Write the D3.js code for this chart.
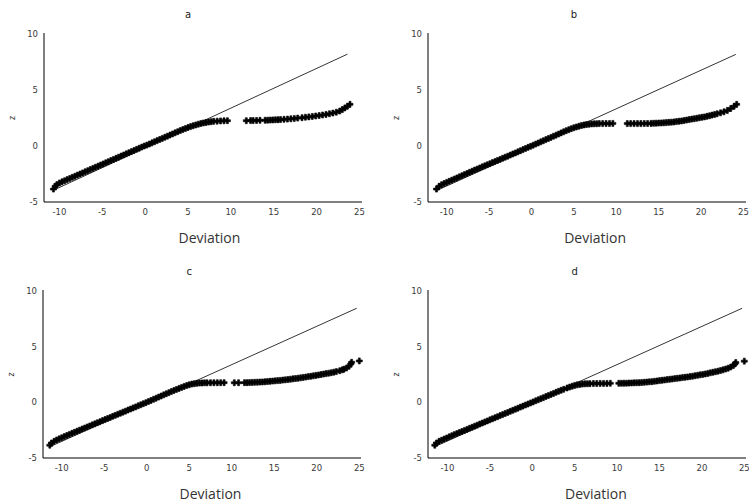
<!DOCTYPE html>
<html>
<head>
<meta charset="utf-8">
<script src="https://cdn.jsdelivr.net/npm/d3@7"></script>
<style>
  body { margin: 0; background: #fff; }
  .tick-label { font-family: "DejaVu Sans", sans-serif; font-size: 8.5px; fill: #3a3a3a; }
  .title { font-family: "DejaVu Sans", sans-serif; font-size: 10px; fill: #222; }
  .x-label { font-family: "Open Sans", sans-serif; font-size: 14px; fill: #333; }
  .y-label { font-family: "DejaVu Sans", sans-serif; font-size: 8px; fill: #333; }
</style>
</head>
<body>
<div id="chart"></div>
<script>
/* Four Q-Q style panels: z against Deviation, with the reference line. */

const titles = ["a", "b", "c", "d"];
const xTicks = [-10, -5, 0, 5, 10, 15, 20, 25];
const yTicks = [-5, 0, 5, 10];

// reference lines [deviation, z]
const lineA = [[-10.7, -3.95], [23.6, 8.2]];
const lineB = [[-11.1, -3.95], [24.1, 8.18]];
const lineC = [[-11.4, -3.99], [24.7, 8.45]];
const lineD = [[-11.5, -3.98], [24.75, 8.45]];

// points [deviation, z]
const pointsA = [
  [-10.7, -3.85], [-10.5, -3.6], [-10.3, -3.45], [-10.0, -3.3], [-9.7, -3.2], [-9.4, -3.1], [-9.1, -3.0],
  [-8.8, -2.9], [-8.5, -2.8], [-8.2, -2.7], [-7.9, -2.6], [-7.6, -2.5], [-7.3, -2.4], [-7.0, -2.3],
  [-6.7, -2.2], [-6.4, -2.1], [-6.1, -2.0], [-5.8, -1.9], [-5.5, -1.8], [-5.2, -1.7], [-4.9, -1.6],
  [-4.6, -1.5], [-4.3, -1.4], [-4.0, -1.3], [-3.7, -1.2], [-3.4, -1.1], [-3.1, -1.0], [-2.8, -0.9],
  [-2.5, -0.8], [-2.2, -0.7], [-1.9, -0.6], [-1.6, -0.5], [-1.3, -0.4], [-1.0, -0.3], [-0.7, -0.2],
  [-0.4, -0.1], [-0.1, 0.0], [0.2, 0.08], [0.5, 0.18], [0.8, 0.28], [1.1, 0.38], [1.4, 0.48],
  [1.7, 0.58], [2.0, 0.68], [2.3, 0.78], [2.6, 0.88], [2.9, 0.98], [3.2, 1.08], [3.5, 1.18],
  [3.8, 1.28], [4.1, 1.38], [4.4, 1.47], [4.7, 1.56], [5.0, 1.65], [5.3, 1.73], [5.6, 1.81],
  [5.9, 1.88], [6.2, 1.95], [6.5, 2.01], [6.8, 2.06], [7.1, 2.1], [7.4, 2.14], [7.7, 2.17],
  [8.0, 2.2], [8.4, 2.22], [8.8, 2.24], [9.2, 2.25], [9.6, 2.26],
  [11.8, 2.26], [12.3, 2.27], [12.6, 2.27], [13.0, 2.28], [13.4, 2.29], [14.0, 2.3], [14.3, 2.31],
  [14.6, 2.32], [14.9, 2.33], [15.2, 2.34], [15.5, 2.35], [15.8, 2.36], [16.2, 2.38], [16.6, 2.4],
  [17.0, 2.43], [17.4, 2.46], [17.8, 2.49], [18.3, 2.53], [18.7, 2.57], [19.1, 2.6], [19.5, 2.64],
  [19.9, 2.68], [20.3, 2.72], [20.7, 2.77], [21.1, 2.82], [21.5, 2.88], [21.9, 2.94], [22.3, 3.02],
  [22.7, 3.12], [23.0, 3.25], [23.3, 3.4], [23.6, 3.55], [23.9, 3.72]
];

const pointsB = [
  [-11.2, -3.85], [-10.9, -3.6], [-10.6, -3.45], [-10.3, -3.35], [-10.0, -3.25], [-9.7, -3.15], [-9.4, -3.05],
  [-9.1, -2.95], [-8.8, -2.85], [-8.5, -2.75], [-8.2, -2.65], [-7.9, -2.55], [-7.6, -2.45], [-7.3, -2.35],
  [-7.0, -2.25], [-6.7, -2.15], [-6.4, -2.06], [-6.1, -1.96], [-5.8, -1.86], [-5.5, -1.77], [-5.2, -1.67],
  [-4.9, -1.58], [-4.6, -1.48], [-4.3, -1.39], [-4.0, -1.29], [-3.7, -1.2], [-3.4, -1.1], [-3.1, -1.0],
  [-2.8, -0.91], [-2.5, -0.81], [-2.2, -0.71], [-1.9, -0.62], [-1.6, -0.52], [-1.3, -0.42], [-1.0, -0.32],
  [-0.7, -0.22], [-0.4, -0.12], [-0.1, -0.03], [0.2, 0.07], [0.5, 0.17], [0.8, 0.27], [1.1, 0.37],
  [1.4, 0.47], [1.7, 0.57], [2.0, 0.67], [2.3, 0.77], [2.6, 0.87], [2.9, 0.97], [3.2, 1.07],
  [3.5, 1.17], [3.8, 1.27], [4.1, 1.37], [4.4, 1.46], [4.7, 1.55], [5.0, 1.63], [5.3, 1.7],
  [5.6, 1.77], [5.9, 1.83], [6.2, 1.88], [6.5, 1.92], [6.8, 1.95], [7.1, 1.97], [7.4, 1.98],
  [7.7, 1.99], [8.0, 2.0], [8.4, 2.0], [8.8, 2.01], [9.2, 2.01], [9.6, 2.02],
  [11.3, 2.0], [11.7, 2.0], [12.1, 2.0], [12.5, 2.0], [12.9, 2.0], [13.3, 2.01], [13.7, 2.01],
  [14.1, 2.02], [14.4, 2.03], [14.7, 2.04], [15.0, 2.05], [15.3, 2.06], [15.6, 2.07], [15.9, 2.09],
  [16.2, 2.11], [16.5, 2.13], [16.8, 2.15], [17.1, 2.18], [17.4, 2.21], [17.7, 2.24], [18.0, 2.28],
  [18.3, 2.32], [18.6, 2.36], [18.9, 2.4], [19.2, 2.44], [19.5, 2.48], [19.8, 2.52], [20.1, 2.56],
  [20.4, 2.6], [20.7, 2.65], [21.0, 2.7], [21.3, 2.76], [21.6, 2.82], [21.9, 2.88], [22.3, 2.96],
  [22.7, 3.05], [23.1, 3.18], [23.5, 3.35], [23.9, 3.55], [24.2, 3.72]
];

const pointsC = [
  [-11.4, -3.85], [-11.2, -3.65], [-10.9, -3.5], [-10.6, -3.38], [-10.3, -3.28], [-10.0, -3.18], [-9.7, -3.08],
  [-9.4, -2.98], [-9.1, -2.88], [-8.8, -2.78], [-8.5, -2.69], [-8.2, -2.59], [-7.9, -2.5], [-7.6, -2.4],
  [-7.3, -2.31], [-7.0, -2.21], [-6.7, -2.12], [-6.4, -2.02], [-6.1, -1.93], [-5.8, -1.83], [-5.5, -1.74],
  [-5.2, -1.64], [-4.9, -1.55], [-4.6, -1.45], [-4.3, -1.36], [-4.0, -1.26], [-3.7, -1.17], [-3.4, -1.07],
  [-3.1, -0.98], [-2.8, -0.88], [-2.5, -0.79], [-2.2, -0.69], [-1.9, -0.6], [-1.6, -0.5], [-1.3, -0.41],
  [-1.0, -0.31], [-0.7, -0.22], [-0.4, -0.12], [-0.1, -0.03], [0.2, 0.07], [0.5, 0.17], [0.8, 0.27],
  [1.1, 0.37], [1.4, 0.47], [1.7, 0.57], [2.0, 0.67], [2.3, 0.77], [2.6, 0.87], [2.9, 0.97],
  [3.2, 1.07], [3.5, 1.16], [3.8, 1.25], [4.1, 1.34], [4.4, 1.43], [4.7, 1.51], [5.0, 1.58],
  [5.3, 1.64], [5.6, 1.68], [5.9, 1.71], [6.2, 1.73], [6.5, 1.74], [6.8, 1.75], [7.1, 1.75],
  [7.5, 1.76], [7.9, 1.76], [8.3, 1.76], [8.7, 1.76], [9.1, 1.77],
  [10.3, 1.76], [10.8, 1.76], [11.5, 1.77], [11.8, 1.77], [12.1, 1.78], [12.4, 1.79], [12.7, 1.8],
  [13.0, 1.81], [13.3, 1.82], [13.6, 1.83], [13.9, 1.85], [14.2, 1.87], [14.5, 1.89], [14.8, 1.91],
  [15.1, 1.93], [15.4, 1.95], [15.7, 1.97], [16.0, 2.0], [16.3, 2.02], [16.6, 2.05], [16.9, 2.08],
  [17.2, 2.11], [17.5, 2.14], [17.8, 2.17], [18.1, 2.2], [18.4, 2.24], [18.7, 2.27], [19.0, 2.31],
  [19.3, 2.34], [19.6, 2.38], [19.9, 2.42], [20.2, 2.46], [20.5, 2.5], [20.8, 2.54], [21.1, 2.58],
  [21.4, 2.62], [21.7, 2.66], [22.0, 2.71], [22.3, 2.76], [22.7, 2.84], [23.0, 2.92], [23.2, 2.98],
  [23.5, 3.08], [23.8, 3.25], [24.0, 3.45], [24.1, 3.6], [25.0, 3.72]
];

const pointsD = [
  [-11.5, -3.85], [-11.3, -3.65], [-11.0, -3.5], [-10.7, -3.4], [-10.4, -3.3], [-10.1, -3.2], [-9.8, -3.1],
  [-9.5, -3.0], [-9.2, -2.9], [-8.9, -2.81], [-8.6, -2.71], [-8.3, -2.62], [-8.0, -2.52], [-7.7, -2.43],
  [-7.4, -2.33], [-7.1, -2.24], [-6.8, -2.14], [-6.5, -2.05], [-6.2, -1.95], [-5.9, -1.86], [-5.6, -1.76],
  [-5.3, -1.67], [-5.0, -1.57], [-4.7, -1.48], [-4.4, -1.38], [-4.1, -1.29], [-3.8, -1.19], [-3.5, -1.1],
  [-3.2, -1.0], [-2.9, -0.91], [-2.6, -0.81], [-2.3, -0.72], [-2.0, -0.62], [-1.7, -0.53], [-1.4, -0.43],
  [-1.1, -0.34], [-0.8, -0.24], [-0.5, -0.15], [-0.2, -0.05], [0.1, 0.04], [0.4, 0.14], [0.7, 0.23],
  [1.0, 0.33], [1.3, 0.42], [1.6, 0.52], [1.9, 0.61], [2.2, 0.71], [2.5, 0.8], [2.8, 0.9],
  [3.1, 0.99], [3.4, 1.08], [3.7, 1.17], [4.1, 1.29], [4.4, 1.37], [4.7, 1.45], [5.0, 1.52],
  [5.3, 1.57], [5.6, 1.61], [5.9, 1.64], [6.2, 1.66], [6.5, 1.67], [6.8, 1.68], [7.2, 1.69],
  [7.6, 1.69], [8.0, 1.7], [8.4, 1.7], [8.8, 1.7], [9.2, 1.71],
  [10.2, 1.71], [10.5, 1.71], [10.8, 1.72], [11.1, 1.72], [11.4, 1.73], [11.7, 1.74], [12.0, 1.75],
  [12.3, 1.76], [12.6, 1.77], [12.9, 1.78], [13.2, 1.8], [13.5, 1.82], [13.8, 1.84], [14.1, 1.86],
  [14.4, 1.89], [14.7, 1.92], [15.0, 1.95], [15.3, 1.98], [15.6, 2.01], [15.9, 2.04], [16.2, 2.07],
  [16.5, 2.1], [16.8, 2.13], [17.1, 2.16], [17.4, 2.19], [17.7, 2.22], [18.0, 2.25], [18.3, 2.28],
  [18.6, 2.31], [18.9, 2.35], [19.2, 2.39], [19.5, 2.43], [19.8, 2.47], [20.1, 2.51], [20.4, 2.55],
  [20.7, 2.6], [21.0, 2.65], [21.3, 2.7], [21.6, 2.75], [21.9, 2.8], [22.2, 2.86], [22.5, 2.92],
  [22.8, 2.99], [23.1, 3.07], [23.4, 3.17], [23.7, 3.3], [23.9, 3.45], [24.0, 3.58], [25.0, 3.7]
];

const allPoints = [pointsA, pointsB, pointsC, pointsD];
const allLines = [lineA, lineB, lineC, lineD];

const width = 749, height = 503;

// panel boxes in pixels and the x domain each one shows
const panels = [
  { left: 44, right: 362, top: 34, bottom: 202, xMin: -11.8, xMax: 25.3 },
  { left: 428, right: 746, top: 34, bottom: 202, xMin: -12.2, xMax: 25.3 },
  { left: 43, right: 361, top: 291, bottom: 458, xMin: -12.2, xMax: 25.2 },
  { left: 428, right: 746, top: 291, bottom: 458, xMin: -12.3, xMax: 25.2 }
];

const svg = d3.select("#chart")
  .append("svg")
  .attr("width", width)
  .attr("height", height)
  .attr("viewBox", [0, 0, width, height]);

const cross = d3.symbol().type(d3.symbolCross).size(20);

panels.forEach((p, i) => {
  let x = d3.scaleLinear()
    .domain([p.xMin, p.xMax])
    .range([p.left, p.right]);

  let y = d3.scaleLinear()
    .domain([-5, 10])
    .range([p.bottom, p.top]);

  let g = svg.append("g");

  // axes: plain lines, labels only
  g.append("line")
    .attr("x1", p.left).attr("x2", p.left)
    .attr("y1", p.top - 1).attr("y2", p.bottom)
    .attr("stroke", "#000").attr("stroke-width", 1);

  g.append("line")
    .attr("x1", p.left).attr("x2", p.right)
    .attr("y1", p.bottom).attr("y2", p.bottom)
    .attr("stroke", "#000").attr("stroke-width", 1);

  g.selectAll(".ytick")
    .data(yTicks)
    .join("text")
    .attr("class", "tick-label")
    .attr("text-anchor", "end")
    .attr("x", p.left - 6)
    .attr("y", d => y(d))
    .attr("dy", "0.35em")
    .text(d => d);

  g.selectAll(".xtick")
    .data(xTicks)
    .join("text")
    .attr("class", "tick-label")
    .attr("text-anchor", "middle")
    .attr("x", d => x(d))
    .attr("y", p.bottom + 10)
    .attr("dy", "0.35em")
    .text(d => d);

  g.append("text")
    .attr("class", "title")
    .attr("text-anchor", "middle")
    .attr("x", x(5))
    .attr("y", p.top - 20)
    .attr("dy", "0.35em")
    .text(titles[i]);

  g.append("text")
    .attr("class", "x-label")
    .attr("text-anchor", "middle")
    .attr("x", x(7.5))
    .attr("y", p.bottom + 36)
    .attr("dy", "0.35em")
    .text("Deviation");

  g.append("text")
    .attr("class", "y-label")
    .attr("text-anchor", "middle")
    .attr("transform", `translate(${p.left - 32},${y(2.5)}) rotate(-90)`)
    .attr("dy", "0.35em")
    .text("z");

  // reference line
  let line = d3.line()
    .x(d => x(d[0]))
    .y(d => y(d[1]));

  g.append("path")
    .datum(allLines[i])
    .attr("d", line)
    .attr("fill", "none")
    .attr("stroke", "#000")
    .attr("stroke-width", 0.8);

  g.selectAll(".pt")
    .data(allPoints[i])
    .join("path")
    .attr("d", cross)
    .attr("transform", d => `translate(${x(d[0])},${y(d[1])})`)
    .attr("fill", "#000")
    .attr("stroke", "#000")
    .attr("stroke-width", 0.6);
});
</script>
</body>
</html>
